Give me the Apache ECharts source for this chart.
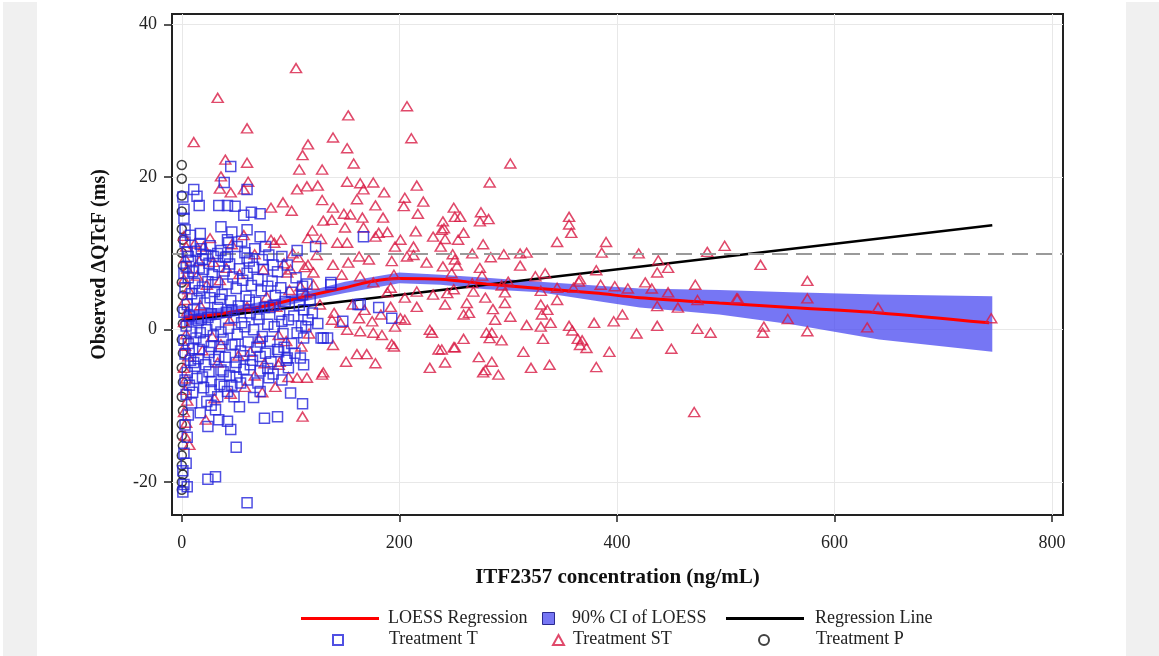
<!DOCTYPE html>
<html>
<head>
<meta charset="utf-8">
<script src="https://cdn.jsdelivr.net/npm/echarts@6/dist/echarts.min.js"></script>
<style>
html,body{margin:0;padding:0;background:#fff;}
#wrap{position:relative;width:1159px;height:656px;overflow:hidden;background:#fff;}
.side{position:absolute;top:2px;bottom:0;background:#f0f0f0;}
#chart{position:absolute;left:0;top:0;width:1159px;height:656px;}
</style>
</head>
<body>
<div id="wrap">
<div class="side" style="left:3px;width:34px;"></div>
<div class="side" style="left:1126px;width:33px;"></div>
<div id="chart"></div>
</div>
<script>
// ---- data ----
const xTicks = [0, 200, 400, 600, 800];
const yTicks = [-20, 0, 20, 40];
const refLineY = 10;

// Treatment T (squares): [concentration, dQTcF]
const treatmentT = [
[45,21.4],[39,19.3],[60,18.4],[11,18.4],[14,17.5],[16,16.3],[34,16.3],[42,16.3],[49,16.2],[57,15.0],[64,15.4],[72,15.2],[2,15.8],
[3,13.1],[36,13.5],[46,12.8],[60,13.1],[72,12.2],[17,12.6],[17,11.2],[42,11.8],[167,12.2],[106,10.4],[123,10.9],[51,10.9],[43,11.4],
[6,9.6],[19,9.2],[29,9.6],[42,9.6],[60,9.4],[74,9.2],[111,5.7],[137,6.2],[111,4.6],[148,1.1],[162,3.3],[116,1.3],[134,-1.1],[128,-1.1],[112,-1.1],
[111,-9.7],[88,-11.4],[76,-11.6],[50,-15.4],[24,-19.6],[31,-19.3],[60,-22.7],[4,-17.5],[5,-20.6],[45,-13.1],[34,-11.8],[24,-12.7],[17,-10.9],
[42,-12.0],[27,-9.9],[31,-10.5],[20,-7.6],[27,-7.9],[42,-8.1],[54,-7.0],[50,-6.2],[70,-7.0],[80,-6.3],[72,-8.1],[98,-5.0],[112,-4.6],[109,-3.7],
[97,-3.7],[88,-2.6],[72,-3.5],[63,-4.6],[50,-4.3],[36,-5.3],[19,-6.2],[11,-4.3],[16,-2.6],[130,-1.1],[114,0.4],[164,3.3],[181,2.9],[193,1.5],[137,5.9],
[1,17.4],[2,14.6],[2,-16.2],[1,-18.5],[2,-20.3],[1,-21.3],
[3,11.5],[5,10.2],[8,9.1],[4,8.3],[10,7.6],[6,6.8],[12,6.1],[3,5.5],[9,4.7],[14,4.1],[5,3.3],[11,2.6],[7,1.8],[15,1.2],[4,0.5],[9,-0.3],[13,-1.1],
[6,-1.8],[10,-2.5],[3,-3.2],[8,-4.0],[12,-4.8],[5,-5.6],[14,-6.4],[7,-7.3],[4,-8.5],[9,-9.6],[6,-11.2],[3,-12.5],[5,-14.1],
[18,10.6],[22,9.8],[25,8.7],[20,7.9],[28,7.2],[24,6.3],[19,5.6],[30,5.0],[26,4.2],[21,3.5],[33,2.9],[27,2.1],[18,1.4],[31,0.7],[23,0.0],[29,-0.8],
[20,-1.5],[35,-2.2],[25,-3.0],[30,-3.9],[22,-4.6],[38,-5.5],[27,-6.8],[33,-8.8],[23,-9.4],
[36,10.4],[40,9.5],[44,8.6],[39,7.7],[47,6.9],[42,6.0],[50,5.4],[37,4.6],[45,3.8],[52,3.1],[41,2.3],[48,1.6],[55,0.9],[43,0.2],[51,-0.6],[38,-1.3],
[46,-2.0],[54,-2.8],[40,-3.6],[49,-4.9],[44,-6.0],[57,-5.2],[39,-7.4],[48,-8.8],[53,-10.1],
[58,10.1],[62,9.0],[66,8.2],[60,7.4],[70,6.6],[64,5.8],[73,5.1],[59,4.4],[68,3.6],[76,2.9],[63,2.2],[71,1.4],[79,0.7],[66,0.0],[74,-0.9],[61,-1.6],
[69,-2.3],[77,-3.1],[65,-4.0],[72,-5.4],[82,-4.2],[60,-6.6],
[80,9.8],[84,8.5],[88,7.6],[83,6.4],[91,5.5],[86,4.5],[95,3.7],[81,2.9],[90,2.0],[98,1.3],[85,0.4],[93,-0.5],[101,-1.8],[89,-2.9],[96,-4.0],[104,-3.1],
[84,-5.8],[92,-6.6],[100,-8.3],[105,6.8],[108,3.2],[103,1.8],[110,0.5],[106,-0.4],[112,2.6],[118,3.9],[115,6.0],[120,2.2],[125,0.8],
[8,12.4],[13,10.3],[26,11.0],[33,10.0],[55,11.6],[67,10.6],[77,10.9],[92,9.6],[16,8.1],[34,8.3],[53,8.0],[75,7.9],[97,8.5],[2,7.4],[31,6.2],
[56,6.5],[79,5.7],[101,4.9],[16,5.1],[35,4.0],[62,3.9],[84,3.2],[2,2.3],[24,1.6],[46,2.6],[69,2.0],[92,1.1],[17,-0.4],[36,-0.3],[58,0.4],[81,-1.5],
[2,-1.4],[27,-2.2],[49,-1.9],[72,-1.6],[94,-2.3],[15,-3.8],[34,-3.5],[57,-3.4],[79,-5.1],[3,-6.6],[25,-5.5],[46,-7.3],[66,-8.9],[10,-8.2],[35,-7.2]
];

// Treatment ST (triangles)
const treatmentST = [
[105,34.3],[33,30.4],[153,28.1],[207,29.3],[211,25.1],[60,26.4],[11,24.6],[139,25.2],[116,24.3],[111,22.9],[152,23.8],[158,21.8],[40,22.3],[60,21.9],
[108,21.0],[129,21.0],[36,20.1],[61,19.4],[106,18.4],[115,18.8],[125,18.9],[152,19.4],[164,19.2],[176,19.3],[186,18.0],[216,18.9],[167,18.4],[35,18.5],
[45,18.0],[57,18.4],[129,17.0],[93,16.7],[101,15.6],[82,16.0],[139,16.0],[161,17.1],[178,16.3],[205,17.3],[222,16.8],[204,16.2],[250,16.0],[149,15.2],
[155,15.1],[166,14.7],[185,14.7],[217,15.2],[130,14.3],[138,14.4],[120,13.0],[150,13.4],[167,13.4],[240,14.2],[251,14.8],[181,12.7],[189,12.8],[201,11.8],
[215,12.9],[231,12.2],[239,13.1],[82,11.8],[91,11.8],[116,12.0],[128,11.9],[143,11.4],[178,12.2],[196,10.9],[213,10.9],[238,10.9],[152,11.4],
[302,21.8],[283,19.3],[256,14.8],[275,15.4],[274,14.2],[282,14.5],[241,13.3],[259,12.7],[242,11.9],[254,11.8],[277,11.2],[345,11.5],[356,14.8],
[356,13.8],[358,12.7],[390,11.5],[499,11.0],[483,10.2],[420,10.0],[267,10.0],[296,9.9],[311,10.0],[317,10.1],[386,10.1],[249,9.9],
[284,9.5],[253,8.4],[274,8.1],[276,7.1],[311,8.4],[248,7.4],[381,7.8],[438,9.1],[437,7.5],[447,8.1],[325,7.0],[334,7.4],[366,6.6],[267,6.1],[300,6.3],
[294,5.8],[244,4.8],[268,5.0],[297,4.9],[330,5.1],[345,5.5],[360,5.5],[365,6.3],[385,5.9],[398,5.7],[410,5.4],[426,6.2],[432,5.4],[447,4.9],[472,5.9],
[510,4.1],[474,3.9],[437,3.1],[456,2.9],[279,4.2],[286,2.7],[262,3.5],[264,2.2],[259,2.0],[288,1.3],[302,1.7],[297,3.5],[330,3.3],[336,2.6],[345,3.9],
[331,2.0],[339,0.9],[317,0.6],[330,0.4],[356,0.5],[359,-0.1],[379,0.9],[397,1.1],[405,2.0],[418,-0.5],[437,0.5],[474,0.1],[486,-0.4],[280,-0.4],
[285,-0.4],[283,-1.1],[294,-1.4],[259,-1.2],[251,-2.3],[239,-2.6],[242,-4.3],[273,-3.6],[285,-4.2],[277,-5.6],[279,-5.3],[291,-5.9],[314,-2.9],
[332,-1.2],[321,-5.0],[338,-4.6],[364,-1.2],[368,-1.4],[366,-2.0],[372,-2.4],[381,-4.9],[393,-2.9],[450,-2.5],[471,-10.8],
[532,8.5],[575,6.4],[575,4.1],[511,4.1],[557,1.4],[535,0.4],[534,-0.4],[575,-0.2],[640,2.9],[630,0.3],[744,1.5],
[111,-11.4],[7,-15.1],[129,-5.9],[130,-5.6],[228,-5.0],[106,-6.3],[115,-6.3],[86,-7.5],[74,-8.2],[89,-4.6],[98,-6.2],[151,-4.2],[178,-4.4],
[161,-3.2],[170,-3.2],[195,-2.2],[236,-2.6],[250,-2.3],[139,-2.0],[193,-1.9],[230,-0.4],[228,0.0],[184,-0.7],[164,-0.2],[176,-0.4],[152,0.0],
[175,1.1],[196,0.4],[205,1.3],[146,0.9],[163,1.5],[183,2.0],[168,2.6],[157,3.3],[140,2.2],[138,1.3],[192,3.0],[201,1.5],[205,4.2],[216,5.0],[216,3.0],
[231,4.6],[242,3.3],[250,5.3],[192,5.5],[176,6.2],[164,7.0],[147,7.2],[139,8.5],[153,8.8],[163,9.6],[172,9.2],[193,9.0],[207,9.6],[213,9.8],[225,8.8],
[240,8.3],[251,9.2],[195,7.2],[189,4.9],[121,7.5],[116,8.5],[97,7.5],[109,5.7],[100,7.9],[89,-0.7],[90,-4.2],
[2,12.3],[4,10.9],[3,9.4],[5,8.0],[2,6.6],[6,5.3],[3,3.9],[5,2.4],[2,1.0],[4,-0.6],[3,-2.1],[6,-3.5],[2,-5.0],[4,-6.4],[3,-7.9],[5,-9.3],[2,-10.8],
[4,-12.2],[3,-13.9],[12,11.3],[16,9.0],[20,10.9],[26,12.0],[14,7.1],[23,5.9],[29,8.9],[17,3.2],[35,6.5],[28,-0.9],[19,-2.7],[33,-4.3],[41,8.1],
[46,11.2],[53,7.3],[57,12.4],[44,1.2],[36,-1.9],[60,3.0],[67,9.9],[63,-2.9],[75,7.9],[78,4.3],[71,-1.2],[85,11.4],[87,3.0],[94,8.7],[99,5.2],
[96,-1.5],[102,10.0],[107,9.5],[110,-2.2],[114,4.8],[117,-0.5],[121,5.9],[124,9.8],[127,3.3],[113,8.2],[58,-7.5],[67,-6.0],[76,-4.4],[52,-3.4],
[30,-9.0],[45,-8.4],[22,-11.8]
];

// Treatment P (circles)
const treatmentP = [
[0,21.6],[0,19.8],[0,17.6],[0,15.5],[0,13.2],[1,11.8],[0,10.1],[1,8.4],[0,6.2],[1,4.5],[0,2.7],[1,0.8],[0,-1.3],[1,-3.1],[0,-5.0],[1,-6.9],
[0,-8.8],[1,-10.6],[0,-12.4],[0,-13.9],[1,-15.2],[0,-16.5],[0,-17.8],[1,-19.0],[0,-20.0],[0,-21.0]
];

// LOESS curve
const loessX = [2, 40, 80, 112, 150, 173, 200, 238, 280, 329, 380, 421, 494, 560, 641, 742];
const loessY = [1.5, 2.2, 3.2, 4.3, 5.5, 6.3, 6.7, 6.6, 6.0, 5.4, 4.8, 4.2, 3.5, 2.9, 2.2, 0.9];
// 90% CI of LOESS
const ciX =     [2, 40, 80, 112, 150, 200, 238, 280, 329, 380, 421, 494, 560, 641, 745];
const ciUpper = [2.6, 2.9, 3.8, 4.9, 6.3, 7.5, 7.2, 6.8, 6.3, 5.8, 5.4, 5.2, 4.9, 4.6, 4.4];
const ciLower = [0.4, 1.5, 2.6, 3.7, 4.8, 6.1, 5.9, 5.3, 4.9, 3.8, 2.9, 2.0, 0.7, -1.3, -2.9];
// Linear regression line
const regX = [0, 745];
const regY = [1.2, 13.7];

// ---- chart ----
const FONT = "'Liberation Serif','Times New Roman',serif";
const chart = echarts.init(document.getElementById('chart'), null, {renderer:'canvas'});
const zip = (xs, ys) => xs.map((x, i) => [x, ys[i]]);

// icon-only legend (no text) and text-only legend (no icon), for exact placement
const legendIcon = (name, left, top, w, h, icon, itemStyle) => ({
  show: true, orient: 'horizontal', left: left, top: top,
  itemWidth: w, itemHeight: h, itemGap: 0, padding: 0, selectedMode: false,
  formatter: function () { return ''; },
  textStyle: {fontSize: 1},
  data: [Object.assign({name: name, icon: icon}, itemStyle ? {itemStyle: itemStyle} : {})]
});
const legendText = (name, left, top) => ({
  show: true, orient: 'horizontal', left: left - 5, top: top,
  itemWidth: 0, itemHeight: 0, itemGap: 0, padding: 0, selectedMode: false,
  textStyle: {fontFamily: FONT, fontSize: 18, color: '#222'},
  data: [{name: name, icon: 'rect', itemStyle: {opacity: 0}}]
});

const option = {
  animation: false,
  backgroundColor: 'transparent',
  grid: {left: 172, right: 96, top: 14, bottom: 141, show: true,
         borderColor: '#222', borderWidth: 2, backgroundColor: '#fff'},
  xAxis: {
    type: 'value', min: -9, max: 810, position: 'bottom',
    name: 'ITF2357 concentration (ng/mL)', nameLocation: 'middle', nameGap: 52,
    nameTextStyle: {fontFamily: FONT, fontSize: 21, fontWeight: 'bold', color: '#111'},
    axisLine: {show: false, onZero: false},
    axisTick: {show: true, length: 7, customValues: xTicks, lineStyle: {color: '#222', width: 1.5}},
    axisLabel: {customValues: xTicks, fontFamily: FONT, fontSize: 18, color: '#222', margin: 19},
    splitLine: {show: true, lineStyle: {color: '#e8e8e8', width: 1}}
  },
  yAxis: {
    type: 'value', min: -24.3, max: 41.4, position: 'left',
    name: 'Observed ΔQTcF (ms)', nameLocation: 'middle', nameGap: 62,
    nameTextStyle: {fontFamily: FONT, fontSize: 20, fontWeight: 'bold', color: '#111'},
    axisLine: {show: false, onZero: false},
    axisTick: {show: true, length: 8, customValues: yTicks, lineStyle: {color: '#222', width: 1.5}},
    axisLabel: {customValues: yTicks, fontFamily: FONT, fontSize: 18, color: '#222', margin: 15},
    splitLine: {show: true, lineStyle: {color: '#e8e8e8', width: 1}}
  },
  legend: [
    legendIcon('LOESS Regression', 301, 617, 78, 3, 'rect'),
    legendText('LOESS Regression', 388, 609),
    legendIcon('90% CI of LOESS', 542, 612, 12, 12, 'rect', {color: '#7676f4', borderColor: '#2a2a90', borderWidth: 1}),
    legendText('90% CI of LOESS', 572, 609),
    legendIcon('Regression Line', 726, 617, 78, 3, 'rect'),
    legendText('Regression Line', 815, 609),
    legendIcon('Treatment T', 332, 634, 10, 10, 'rect'),
    legendText('Treatment T', 388, 630),
    legendIcon('Treatment ST', 552, 634, 11, 10, 'triangle'),
    legendText('Treatment ST', 572, 630),
    legendIcon('Treatment P', 758, 634, 10, 10, 'circle'),
    legendText('Treatment P', 815, 630)
  ],
  series: [
    {
      name: '90% CI of LOESS', type: 'custom', z: 1, silent: true,
      itemStyle: {color: '#7676f4'},
      data: ciX.map((x, i) => [x, ciUpper[i], ciLower[i]]),
      encode: {x: 0, y: [1, 2]},
      renderItem: function (params, api) {
        if (params.dataIndex !== 0) return null;
        const pts = [];
        for (let i = 0; i < ciX.length; i++) pts.push(api.coord([ciX[i], ciUpper[i]]));
        for (let i = ciX.length - 1; i >= 0; i--) pts.push(api.coord([ciX[i], ciLower[i]]));
        return {type: 'polygon', shape: {points: pts}, style: {fill: 'rgba(72,72,240,0.75)'}};
      }
    },
    {
      name: 'Regression Line', type: 'line', z: 2, symbol: 'none', smooth: false,
      lineStyle: {color: '#000', width: 2.5}, itemStyle: {color: '#000'},
      data: zip(regX, regY),
      markLine: {
        silent: true, symbol: 'none', label: {show: false},
        lineStyle: {color: '#9a9a9a', type: [16, 8], width: 2},
        data: [{yAxis: refLineY}]
      }
    },
    {
      name: 'LOESS Regression', type: 'line', z: 2, symbol: 'none', smooth: 0.3,
      lineStyle: {color: '#ff0000', width: 3}, itemStyle: {color: '#ff0000'},
      data: zip(loessX, loessY)
    },
    {
      name: 'Treatment P', type: 'scatter', z: 3, symbol: 'circle', symbolSize: 9,
      itemStyle: {color: 'rgba(0,0,0,0)', borderColor: '#111', borderWidth: 1.5},
      data: treatmentP
    },
    {
      name: 'Treatment ST', type: 'scatter', z: 4, symbol: 'triangle', symbolSize: [11, 9],
      itemStyle: {color: 'rgba(0,0,0,0)', borderColor: '#d81b45', borderWidth: 1.5},
      data: treatmentST
    },
    {
      name: 'Treatment T', type: 'scatter', z: 5, symbol: 'rect', symbolSize: 10,
      itemStyle: {color: 'rgba(0,0,0,0)', borderColor: '#2424dc', borderWidth: 1.5},
      data: treatmentT
    }
  ]
};
chart.setOption(option);
</script>
</body>
</html>
